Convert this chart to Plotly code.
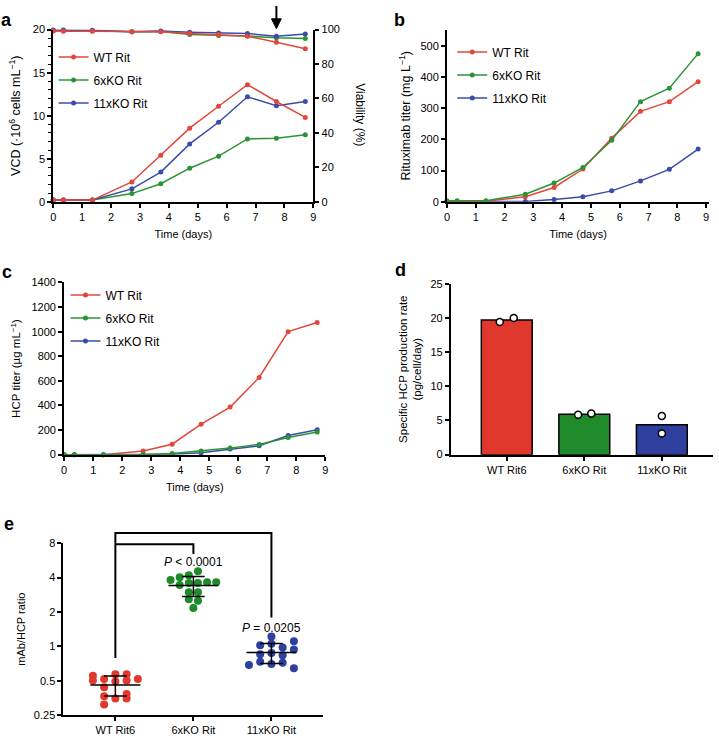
import numpy as np
import plotly.graph_objects as go

W, H = 719, 743

# ---------------- data ----------------
time_days = [0, 0.35, 1.35, 2.72, 3.72, 4.72, 5.72, 6.72, 7.72, 8.72]
series_names = ["WT Rit", "6xKO Rit", "11xKO Rit"]

vcd_wt = [0.2, 0.2, 0.2, 2.3, 5.4, 8.55, 11.1, 13.6, 11.65, 9.8]
vcd_6x = [0.2, 0.2, 0.2, 0.95, 2.1, 3.9, 5.3, 7.3, 7.37, 7.8]
vcd_11x = [0.2, 0.2, 0.2, 1.5, 3.45, 6.72, 9.24, 12.2, 11.15, 11.65]

via_wt = [99.2, 99.0, 99.0, 98.7, 98.7, 97.7, 97.1, 96.2, 92.6, 88.9]
via_6x = [99.5, 99.5, 99.3, 98.8, 98.9, 97.2, 96.6, 96.3, 95.2, 94.8]
via_11x = [99.8, 99.8, 99.6, 98.7, 99.2, 98.5, 98.1, 97.7, 96.2, 97.5]

rit_wt = [2, 2, 2, 16, 46, 105, 204, 290, 321, 385]
rit_6x = [3, 3, 3, 24, 60, 110, 197, 321, 364, 475]
rit_11x = [1, 1, 1, 1, 7, 16, 35, 67, 104, 169]

hcp_wt = [0, 0, 0, 30, 85, 248, 387, 627, 1000, 1075]
hcp_6x = [0, 0, 0, 2, 10, 29, 53, 83, 139, 184]
hcp_11x = [0, 0, 0, 0, 3, 16, 45, 72, 155, 203]

group_labels = ["WT Rit6", "6xKO Rit", "11xKO Rit"]
qp_reps = [[19.4, 20.0], [5.85, 6.0], [5.65, 3.1]]
qp_jitter = [[-0.09, 0.09], [-0.08, 0.09], [0.0, 0.0]]

ratio_wt = [0.551, 0.502, 0.516, 0.437, 0.365, 0.310, 0.570, 0.493, 0.349,
            0.570, 0.502, 0.383, 0.349, 0.516]
ratio_wt_slot = [-2, -2, -1, -1, -1, -1, 0, 0, 0, 1, 1, 1, 1, 2]
ratio_6x = [3.81, 4.02, 3.45, 4.18, 3.59, 2.98, 2.58, 4.55, 3.59, 2.98, 2.51,
            3.64, 3.64, 2.16]
ratio_6x_slot = [-2.5, -1.5, -1.5, -0.5, -0.5, -0.5, -0.5, 0.5, 0.5, 0.5, 0.5,
                 1.5, 2.5, 0]
ratio_11x = [0.686, 1.02, 0.853, 0.732, 1.22, 1.055, 0.875, 0.70, 0.974, 0.836,
             0.718, 1.11, 0.936, 0.642]
ratio_11x_slot = [-2, -1, -1, -1, 0, 0, 0, 0, 1, 1, 1, 2, 2, 2]
slot_step = [0.144, 0.117, 0.144]

# ---------------- style ----------------
RED, GREEN, BLUE = "#e0382c", "#1f8a2a", "#2f3f9e"
LRED, LGREEN, LBLUE = "#e2473b", "#2a9434", "#3b4ca6"
FONT = "Liberation Sans, Arial, Helvetica, sans-serif"


def px_x(p):
    return p / W


def px_y(p):
    return 1 - p / H


def axstyle(**kw):
    d = dict(showline=True, linecolor="black", linewidth=2, ticks="outside",
             ticklen=4, tickwidth=1.5, tickcolor="black", showgrid=False,
             zeroline=False, tickfont=dict(size=11, color="black", family=FONT),
             title_font=dict(size=11, color="black", family=FONT),
             ticklabeloverflow="allow")
    d.update(kw)
    return d


def big_title(text, standoff):
    return dict(text=text, standoff=standoff, font=dict(size=12.5, color="black", family=FONT))


fig = go.Figure()
line_cols = [LRED, LGREEN, LBLUE]
order = [1, 2, 0]

# panel a: viability (right axis)
for i in order:
    vi = [via_wt, via_6x, via_11x][i]
    fig.add_trace(go.Scatter(x=time_days, y=vi, mode="lines+markers", xaxis="x", yaxis="y6",
                             line=dict(color=line_cols[i], width=1.5),
                             marker=dict(size=5, color=line_cols[i]), showlegend=False,
                             cliponaxis=False))
# panel a: VCD
for i in order:
    v = [vcd_wt, vcd_6x, vcd_11x][i]
    fig.add_trace(go.Scatter(x=time_days, y=v, mode="lines+markers", xaxis="x", yaxis="y",
                             name=series_names[i], legend="legend", legendgroup=f"a{i}",
                             legendrank=i, cliponaxis=False,
                             line=dict(color=line_cols[i], width=1.5),
                             marker=dict(size=5, color=line_cols[i])))

# panel b
for i in [2, 0, 1]:
    v = [rit_wt, rit_6x, rit_11x][i]
    fig.add_trace(go.Scatter(x=time_days, y=v, mode="lines+markers", xaxis="x2", yaxis="y2",
                             name=series_names[i], legend="legend2", legendgroup=f"b{i}",
                             legendrank=i, cliponaxis=False,
                             line=dict(color=line_cols[i], width=1.5),
                             marker=dict(size=5, color=line_cols[i])))

# panel c
for i in [0, 2, 1]:
    v = [hcp_wt, hcp_6x, hcp_11x][i]
    fig.add_trace(go.Scatter(x=time_days, y=v, mode="lines+markers", xaxis="x3", yaxis="y3",
                             name=series_names[i], legend="legend3", legendgroup=f"c{i}",
                             legendrank=i, cliponaxis=False,
                             line=dict(color=line_cols[i], width=1.5),
                             marker=dict(size=5, color=line_cols[i])))

# panel d
bar_cols = [RED, GREEN, BLUE]
fig.add_trace(go.Bar(x=[0, 1, 2], y=[float(np.mean(r)) for r in qp_reps], xaxis="x4", yaxis="y4",
                     width=0.656, marker=dict(color=bar_cols, line=dict(color="black", width=1.5)),
                     showlegend=False))
for i in range(3):
    fig.add_trace(go.Scatter(x=[i + j for j in qp_jitter[i]], y=qp_reps[i], mode="markers",
                             xaxis="x4", yaxis="y4", showlegend=False, cliponaxis=False,
                             marker=dict(size=7, color="white", line=dict(color="black", width=1.5))))

# panel e
ratios = [ratio_wt, ratio_6x, ratio_11x]
slots = [ratio_wt_slot, ratio_6x_slot, ratio_11x_slot]
for i in range(3):
    vals = np.array(ratios[i])
    m, s = vals.mean(), vals.std(ddof=1)
    xs = [i + sl * slot_step[i] for sl in slots[i]]
    fig.add_trace(go.Scatter(x=xs, y=vals, mode="markers", xaxis="x5", yaxis="y5",
                             showlegend=False, cliponaxis=False,
                             marker=dict(size=8, color=bar_cols[i])))
    fig.add_trace(go.Scatter(
        x=[i - 0.32, i + 0.32, None, i - 0.145, i + 0.145, None, i - 0.145, i + 0.145, None, i, i],
        y=[m, m, None, m + s, m + s, None, m - s, m - s, None, m - s, m + s],
        mode="lines", xaxis="x5", yaxis="y5", showlegend=False,
        line=dict(color="black", width=1.5)))

# ---------------- layout ----------------
dom_a_x = [px_x(50.7), px_x(313)]
dom_ab_y = [px_y(199), px_y(24)]

layout = dict(
    width=W, height=H, margin=dict(l=0, r=0, t=0, b=0),
    paper_bgcolor="white", plot_bgcolor="white",
    font=dict(family=FONT, size=11, color="black"),
    xaxis=axstyle(domain=dom_a_x, anchor="y", range=[0, 9], dtick=1,
                  title=dict(text="Time (days)", standoff=8)),
    yaxis=axstyle(domain=dom_ab_y, anchor="x", range=[0, 20], dtick=5,
                  minor=dict(dtick=1, ticks="outside", ticklen=3, tickwidth=1, tickcolor="black"),
                  title=big_title("VCD (·10<sup>6</sup> cells mL<sup>−1</sup>)", 9)),
    yaxis6=axstyle(overlaying="y", anchor="x", side="right", range=[0, 100], dtick=20),
    xaxis2=axstyle(domain=[px_x(447.7), px_x(712)], anchor="y2", range=[0, 9.1],
                   tickvals=list(range(10)),
                   title=dict(text="Time (days)", standoff=8)),
    yaxis2=axstyle(domain=dom_ab_y, anchor="x2", range=[0, 552], dtick=100,
                   title=big_title("Rituximab titer (mg L<sup>−1</sup>)", 7)),
    xaxis3=axstyle(domain=[px_x(61.7), px_x(325)], anchor="y3", range=[0, 9], dtick=1,
                   title=dict(text="Time (days)", standoff=8)),
    yaxis3=axstyle(domain=[px_y(456), px_y(281)], anchor="x3", range=[0, 1400], dtick=200,
                   title=dict(text="HCP titer (µg mL<sup>−1</sup>)", standoff=8,
                              font=dict(size=11.5, color="black", family=FONT))),
    xaxis4=axstyle(domain=[px_x(451.7), px_x(716)], anchor="y4", range=[-0.72, 2.66],
                   tickvals=[0, 1, 2], ticktext=group_labels),
    yaxis4=axstyle(domain=[px_y(456), px_y(282.3)], anchor="x4", range=[0, 25], dtick=5,
                   title=dict(text="Specific HCP production rate<br>(pg/cell/day)", standoff=6,
                              font=dict(size=11.5, color="black", family=FONT))),
    xaxis5=axstyle(domain=[px_x(61), px_x(323)], anchor="y5", range=[-0.665, 2.665],
                   tickvals=[0, 1, 2], ticktext=group_labels),
    yaxis5=axstyle(domain=[px_y(720.7), px_y(546)], anchor="x5", type="log",
                   range=[np.log10(0.25), np.log10(8)],
                   tickvals=[0.25, 0.5, 1, 2, 4, 8], ticktext=["0.25", "0.5", "1", "2", "4", "8"],
                   title=dict(text="mAb/HCP ratio", standoff=6)),
    showlegend=True,
)

leg_common = dict(xanchor="left", yanchor="top", bgcolor="rgba(0,0,0,0)",
                  font=dict(size=12, family=FONT, color="black"), tracegroupgap=4,
                  traceorder="grouped", itemclick=False)
layout["legend"] = dict(x=px_x(51), y=px_y(37), **leg_common)
layout["legend2"] = dict(x=px_x(453), y=px_y(32), **leg_common)
layout["legend3"] = dict(x=px_x(63), y=px_y(279), **leg_common)

fig.update_layout(**layout)

# bracket shapes in panel e
br = dict(type="path", xref="x5", yref="y5 domain", line=dict(color="black", width=2))
fig.add_shape(path="M 0,0.332 L 0,1.059 L 2,1.059 L 2,0.567", **br)
fig.add_shape(path="M 0,0.994 L 1,0.994 L 1,0.937", **br)

# arrow in panel a (day 7.72)
fig.add_shape(type="line", xref="x", yref="paper", x0=7.72, x1=7.72, y0=px_y(0), y1=px_y(15),
              line=dict(color="black", width=2))
fig.add_shape(type="path", xref="x", yref="paper",
              path=f"M 7.55,{px_y(13)} L 7.89,{px_y(13)} L 7.72,{px_y(23)} Z",
              fillcolor="black", line=dict(color="black", width=1))

ann = []
ann.append(dict(text="<i>P</i> < 0.0001", x=1, y=0.891, xref="x5", yref="y5 domain",
                xanchor="center", yanchor="middle", showarrow=False, font=dict(size=12)))
ann.append(dict(text="<i>P</i> = 0.0205", x=2, y=0.509, xref="x5", yref="y5 domain",
                xanchor="center", yanchor="middle", showarrow=False, font=dict(size=12)))
ann.append(dict(text="Viability (%)", x=px_x(360), y=px_y(111), xref="paper", yref="paper",
                xanchor="center", yanchor="middle",
                textangle=90, showarrow=False, font=dict(size=12)))
for letter, (lx, ly) in zip("abcde", [(4, 14), (400, 14), (4, 270), (401, 268), (6, 526)]):
    ann.append(dict(text=f"<b>{letter}</b>", x=px_x(lx), y=px_y(ly), xref="paper", yref="paper",
                    xanchor="center", yanchor="middle",
                    showarrow=False, font=dict(size=18, family=FONT)))
fig.update_layout(annotations=ann)

fig.write_html("out.html", config={"displayModeBar": False},
               post_script="document.body.style.margin='0px';document.body.style.overflow='hidden';")
